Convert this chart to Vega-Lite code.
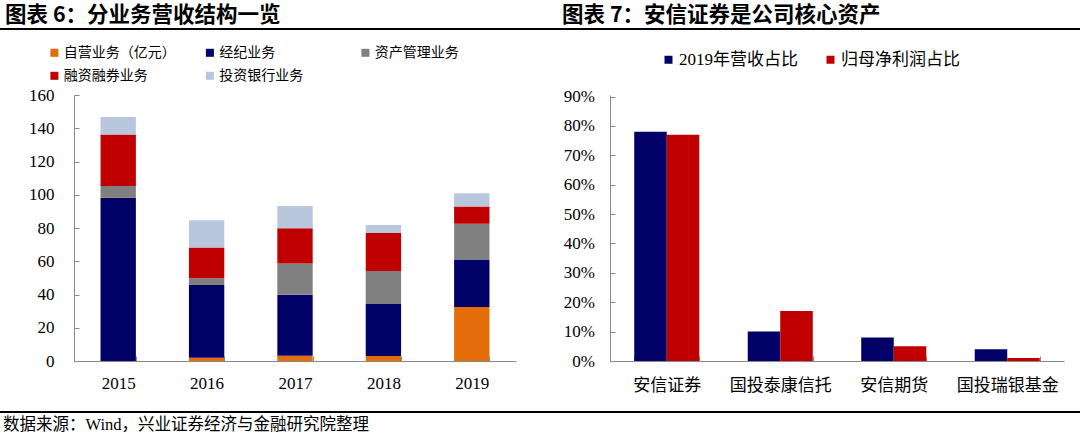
{
  "$schema": "https://vega.github.io/schema/vega-lite/v6.json",
  "padding": {"top": 5, "left": 0, "right": 0, "bottom": 0},
  "background": "white",
  "spacing": 0,
  "resolve": {"scale": {"color": "independent", "x": "independent", "y": "independent"}, "legend": {"color": "independent"}},
  "config": {
    "view": {"stroke": null},
    "concat": {"spacing": 0},
    "axis": {
      "grid": false,
      "domainColor": "#898989",
      "tickColor": "#898989",
      "labelColor": "#000000",
      "labelFont": "Liberation Serif",
      "labelFontSize": 17,
      "tickSize": -5,
      "labelOverlap": false
    },
    "legend": {"padding": 0}
  },
  "datasets": {
    "blank": [{"k": 1}],
    "seriesInfo": [
      {"series": "自营业务（亿元）", "rank": 1},
      {"series": "经纪业务", "rank": 2},
      {"series": "资产管理业务", "rank": 3},
      {"series": "融资融券业务", "rank": 4},
      {"series": "投资银行业务", "rank": 5}
    ],
    "revenue": [
      {"year": "2015", "series": "自营业务（亿元）", "value": 0},
      {"year": "2015", "series": "经纪业务", "value": 98.2},
      {"year": "2015", "series": "资产管理业务", "value": 7.1},
      {"year": "2015", "series": "融资融券业务", "value": 31.0},
      {"year": "2015", "series": "投资银行业务", "value": 10.5},
      {"year": "2016", "series": "自营业务（亿元）", "value": 2.0},
      {"year": "2016", "series": "经纪业务", "value": 43.7},
      {"year": "2016", "series": "资产管理业务", "value": 4.0},
      {"year": "2016", "series": "融资融券业务", "value": 18.5},
      {"year": "2016", "series": "投资银行业务", "value": 16.4},
      {"year": "2017", "series": "自营业务（亿元）", "value": 3.2},
      {"year": "2017", "series": "经纪业务", "value": 36.7},
      {"year": "2017", "series": "资产管理业务", "value": 18.8},
      {"year": "2017", "series": "融资融券业务", "value": 21.1},
      {"year": "2017", "series": "投资银行业务", "value": 13.4},
      {"year": "2018", "series": "自营业务（亿元）", "value": 3.0},
      {"year": "2018", "series": "经纪业务", "value": 31.3},
      {"year": "2018", "series": "资产管理业务", "value": 19.8},
      {"year": "2018", "series": "融资融券业务", "value": 22.9},
      {"year": "2018", "series": "投资银行业务", "value": 4.8},
      {"year": "2019", "series": "自营业务（亿元）", "value": 32.5},
      {"year": "2019", "series": "经纪业务", "value": 28.5},
      {"year": "2019", "series": "资产管理业务", "value": 21.6},
      {"year": "2019", "series": "融资融券业务", "value": 10.4},
      {"year": "2019", "series": "投资银行业务", "value": 7.9}
    ],
    "share": [
      {"company": "安信证券", "metric": "2019年营收占比", "value": 0.78},
      {"company": "安信证券", "metric": "归母净利润占比", "value": 0.77},
      {"company": "国投泰康信托", "metric": "2019年营收占比", "value": 0.10},
      {"company": "国投泰康信托", "metric": "归母净利润占比", "value": 0.17},
      {"company": "安信期货", "metric": "2019年营收占比", "value": 0.08},
      {"company": "安信期货", "metric": "归母净利润占比", "value": 0.05},
      {"company": "国投瑞银基金", "metric": "2019年营收占比", "value": 0.04},
      {"company": "国投瑞银基金", "metric": "归母净利润占比", "value": 0.01}
    ]
  },
  "vconcat": [
    {
      "spacing": 0,
      "hconcat": [
        {
          "width": 540,
          "height": 2,
          "data": {"name": "blank"},
          "view": {"fill": "#000000", "stroke": null},
          "mark": {"type": "point", "size": 0, "opacity": 0, "filled": true, "strokeWidth": 0},
          "encoding": {},
          "title": {"text": "图表 6：分业务营收结构一览", "anchor": "start", "dx": 5, "offset": 1.5, "font": "Noto Sans CJK SC", "fontSize": 21.5, "fontWeight": "bold", "color": "#000000"}
        },
        {
          "width": 540,
          "height": 2,
          "data": {"name": "blank"},
          "view": {"fill": "#000000", "stroke": null},
          "mark": {"type": "point", "size": 0, "opacity": 0, "filled": true, "strokeWidth": 0},
          "encoding": {},
          "title": {"text": "图表 7：安信证券是公司核心资产", "anchor": "start", "dx": 22, "offset": 1.5, "font": "Noto Sans CJK SC", "fontSize": 21.5, "fontWeight": "bold", "color": "#000000"}
        }
      ]
    },
    {
      "spacing": 0,
      "resolve": {"scale": {"color": "independent", "x": "independent", "y": "independent"}, "legend": {"color": "independent"}},
      "hconcat": [
        {
          "width": 1,
          "height": 2,
          "data": {"name": "blank"},
          "mark": {"type": "point", "size": 0, "opacity": 0, "filled": true, "strokeWidth": 0},
          "encoding": {}
        },
        {
          "width": 442,
          "height": 266,
          "data": {"name": "revenue"},
          "transform": [
            {"lookup": "series", "from": {"data": {"name": "seriesInfo"}, "key": "series", "fields": ["rank"]}}
          ],
          "mark": {"type": "bar"},
          "encoding": {
            "x": {
              "field": "year",
              "type": "ordinal",
              "scale": {"paddingInner": 0.6, "paddingOuter": 0.3},
              "axis": {
                "title": " ", "titleOpacity": 0, "titleFontSize": 2, "titleX": 0, "titleY": 50,
                "titleBaseline": "bottom", "titleAlign": "left",
                "labelAngle": 0, "labelPadding": 19, "tickBand": "extent"
              }
            },
            "y": {
              "field": "value",
              "type": "quantitative",
              "stack": "zero",
              "scale": {"domain": [0, 160], "nice": false},
              "axis": {
                "title": " ", "titleOpacity": 0, "titleFontSize": 2, "titleAngle": 0,
                "titleX": -72.3, "titleY": -65, "titleAlign": "left", "titleBaseline": "top",
                "values": [0, 20, 40, 60, 80, 100, 120, 140, 160],
                "labelPadding": 25
              }
            },
            "order": {"field": "rank", "type": "quantitative", "sort": "ascending"},
            "color": {
              "field": "series",
              "type": "nominal",
              "scale": {
                "domain": ["自营业务（亿元）", "经纪业务", "资产管理业务", "融资融券业务", "投资银行业务"],
                "range": ["#E46C0A", "#000066", "#808080", "#C00000", "#B9C7DE"]
              },
              "legend": {
                "title": null, "orient": "none", "legendX": -26.6, "legendY": -49.2,
                "direction": "horizontal", "columns": 3, "gridAlign": "all",
                "symbolType": "square", "symbolSize": 64, "symbolStrokeWidth": 0,
                "labelFont": "Noto Sans CJK SC", "labelFontSize": 14, "labelColor": "#000000",
                "labelOffset": 2.4, "columnPadding": 26.5, "rowPadding": 9, "labelLimit": 300
              }
            }
          }
        },
        {
          "width": 454,
          "height": 266,
          "data": {"name": "share"},
          "mark": {"type": "bar"},
          "encoding": {
            "x": {
              "field": "company",
              "type": "nominal",
              "sort": ["安信证券", "国投泰康信托", "安信期货", "国投瑞银基金"],
              "scale": {"paddingInner": 0.427, "paddingOuter": 0.2135},
              "axis": {
                "title": " ", "titleOpacity": 0, "titleFontSize": 2, "titleX": 0, "titleY": 50,
                "titleBaseline": "bottom", "titleAlign": "left",
                "labelAngle": 0, "labelPadding": 21, "tickBand": "extent",
                "labelFont": "Noto Sans CJK SC"
              }
            },
            "xOffset": {
              "field": "metric",
              "type": "nominal",
              "sort": ["2019年营收占比", "归母净利润占比"],
              "scale": {"paddingInner": 0, "paddingOuter": 0}
            },
            "y": {
              "field": "value",
              "type": "quantitative",
              "scale": {"domain": [0, 0.9054], "nice": false},
              "axis": {
                "title": " ", "titleOpacity": 0, "titleFontSize": 2, "titleAngle": 0,
                "titleX": -93.7, "titleY": -65, "titleAlign": "left", "titleBaseline": "top",
                "values": [0, 0.1, 0.2, 0.3, 0.4, 0.5, 0.6, 0.7, 0.8, 0.9],
                "format": ".0%",
                "labelPadding": 20.7
              }
            },
            "color": {
              "field": "metric",
              "type": "nominal",
              "scale": {"domain": ["2019年营收占比", "归母净利润占比"], "range": ["#000066", "#C00000"]},
              "legend": {
                "title": null, "orient": "none", "legendX": 50, "legendY": -44,
                "direction": "horizontal",
                "symbolType": "square", "symbolSize": 64, "symbolStrokeWidth": 0,
                "labelFont": "Liberation Serif, Noto Sans CJK SC", "labelFontSize": 17, "labelColor": "#000000",
                "labelOffset": 2, "columnPadding": 24, "labelLimit": 300
              }
            }
          }
        }
      ]
    },
    {
      "width": 1080,
      "height": 2,
      "data": {"name": "blank"},
      "view": {"fill": "#000000", "stroke": null},
      "mark": {"type": "point", "size": 0, "opacity": 0, "filled": true, "strokeWidth": 0},
      "encoding": {},
      "title": {"text": "数据来源：Wind，兴业证券经济与金融研究院整理", "orient": "bottom", "anchor": "start", "dx": 3, "offset": 4, "font": "Liberation Serif, Noto Sans CJK SC", "fontSize": 16.5, "fontWeight": "normal", "color": "#000000"}
    }
  ]
}
